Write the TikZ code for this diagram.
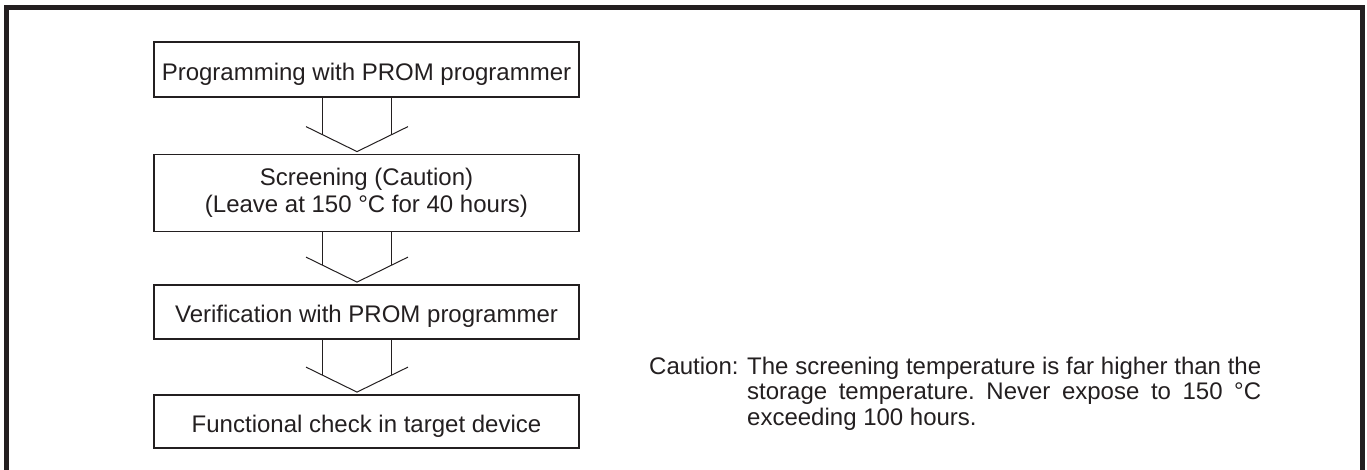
\documentclass[tikz,border=0pt]{standalone}
\usepackage{fontspec}
\setmainfont{Liberation Sans}
\usetikzlibrary{calc}
\definecolor{ink}{HTML}{231F20}
\newcommand{\flowarrow}[2]{%
  \draw[arrline] ($(#1.south)+(-44.5,0)$) -- ($(#2.north)+(-44.5,-19)$);
  \draw[arrline] ($(#1.south)+(24.5,0)$) -- ($(#2.north)+(24.5,-19)$);
  \draw[arrline] ($(#2.north)+(-60.5,-27)$) -- ($(#2.north)+(-9.5,-2)$) -- ($(#2.north)+(41.5,-27)$);}
\begin{document}
\begin{tikzpicture}[x=1pt,y=-1pt,
  txt/.style={text=ink, font=\fontsize{24}{27}\selectfont\frenchspacing},
  stepbox/.style={txt, draw=ink, line width=1.8pt, minimum width=425pt, inner sep=0pt, align=center},
  onebox/.style={stepbox, text height=21.5pt, text depth=0pt},
  arrline/.style={draw=ink, line width=1pt},
  frameline/.style={draw=ink, line width=5pt},
  note/.style={txt, anchor=base west, inner sep=0pt}]
\useasboundingbox (0,0) rectangle (1367,470);
\draw[frameline] (6,490) -- (6,7.5) -- (1362,7.5) -- (1362,490);
\node[onebox, minimum height=55pt] (b1) at (366.5,69.5) {Programming with PROM programmer};
\node[stepbox, minimum height=77pt] (b2) at (366.5,193) {Screening (Caution)\\(Leave at 150 °C for 40 hours)};
\node[onebox, minimum height=54pt] (b3) at (366.5,312) {Verification with PROM programmer};
\node[onebox, minimum height=53pt] (b4) at (366.5,421.5) {Functional check in target device};
\flowarrow{b1}{b2}
\flowarrow{b2}{b3}
\flowarrow{b3}{b4}
\node[note] (cap) at (649,374) {Caution:};
\node[note] (cl1) at (747,374) {\hbox to 514pt{The screening temperature is far higher than the}};
\node[note] (cl2) at (747,399.5) {\hbox to 514pt{storage temperature. Never expose to 150 °C}};
\node[note] (cl3) at (747,425) {exceeding 100 hours.};
\end{tikzpicture}
\end{document}
